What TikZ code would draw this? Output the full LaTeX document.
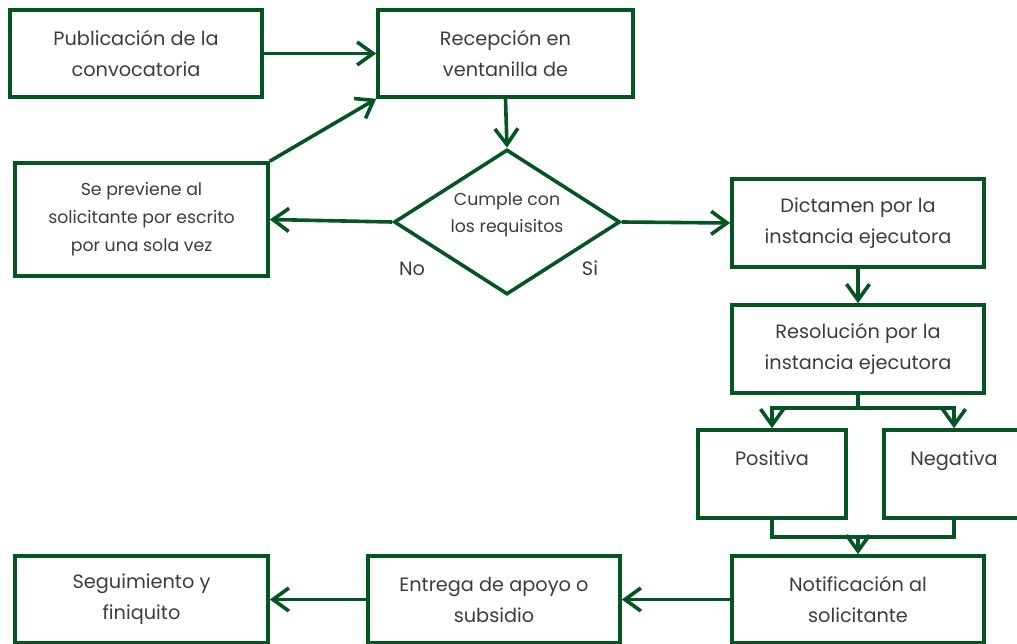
\documentclass[tikz,border=0pt]{standalone}
\usepackage{fontspec}
\setmainfont{Poppins}
\usetikzlibrary{shapes.geometric, arrows.meta}
\definecolor{flowgreen}{RGB}{4,84,36}
\definecolor{flowtext}{RGB}{60,60,60}

\begin{document}
\begin{tikzpicture}[x=1pt,y=-1pt,
  box/.style={draw=flowgreen, line width=3.6pt, rectangle, inner sep=0pt, align=center, text=flowtext, font=\fontsize{19.3}{31}\selectfont},
  smallbox/.style={box, font=\fontsize{17.3}{28}\selectfont},
  decide/.style={draw=flowgreen, line width=3.6pt, diamond, inner sep=0pt},
  flowtxt/.style={text=flowtext, font=\fontsize{19.3}{20}\selectfont, anchor=base},
  flow/.style={draw=flowgreen, line width=3.6pt, -{Straight Barb[length=16pt,width=23pt,line width=3.6pt]}},
  link/.style={draw=flowgreen, line width=3.6pt}]
\useasboundingbox (0,0) rectangle (1017,644);
\clip (0,0) rectangle (1017,644);
\node[box, minimum width=252, minimum height=87] (pub) at (136,53.5) {Publicación de la\\convocatoria};
\node[box, minimum width=255, minimum height=87] (recep) at (505.5,53.5) {Recepción en\\ventanilla de};
\node[smallbox, minimum width=253, minimum height=113] (prev) at (141.5,219.5) {Se previene al\\solicitante por escrito\\por una sola vez};
\node[decide, minimum width=226, minimum height=145] (cumple) at (507,222) {};
\node[align=center, text=flowtext, font=\fontsize{17.3}{27}\selectfont] (cumpletxt) at (507,215) {Cumple con\\los requisitos};
\node[flowtxt] (no) at (412,276) {No};
\node[flowtxt] (si) at (590,276) {Si};
\node[box, minimum width=252, minimum height=88] (dict) at (858,223) {Dictamen por la\\instancia ejecutora};
\node[box, minimum width=252, minimum height=88] (resol) at (858,349) {Resolución por la\\instancia ejecutora};
\node[box, minimum width=148, minimum height=88] (pos) at (772,474) {};
\node[flowtxt] (postxt) at (772,465) {Positiva};
\node[box, minimum width=148, minimum height=88] (neg) at (958,474) {};
\node[flowtxt] (negtxt) at (954,465) {Negativa};
\node[box, minimum width=252, minimum height=87] (notif) at (858,599.5) {Notificación al\\solicitante};
\node[box, minimum width=252, minimum height=87] (entrega) at (494,599.5) {Entrega de apoyo o\\subsidio};
\node[box, minimum width=253, minimum height=87] (segui) at (141.5,599.5) {Seguimiento y\\finiquito};
\coordinate (split) at (858,408);
\coordinate (join) at (858,537);
\draw[flow] (pub.east) -- (recep.west);
\draw[flow] (prev.north east) -- (recep.south west);
\draw[flow] (recep.south) -- (cumple.north);
\draw[flow] (cumple.west) -- (prev.east);
\draw[flow] (cumple.east) -- (dict.west);
\draw[flow] (dict.south) -- (resol.south |- resol.north);
\draw[link] (resol.south) -- (split);
\draw[flow] (split) -| (pos.north);
\draw[flow] (split) -| (negtxt.north |- neg.north);
\draw[link] (pos.south) |- (join) -| (negtxt.south |- neg.south);
\draw[flow] (join) -- (notif.north);
\draw[flow] (notif.west) -- (entrega.east);
\draw[flow] (entrega.west) -- (segui.east);
\end{tikzpicture}
\end{document}
